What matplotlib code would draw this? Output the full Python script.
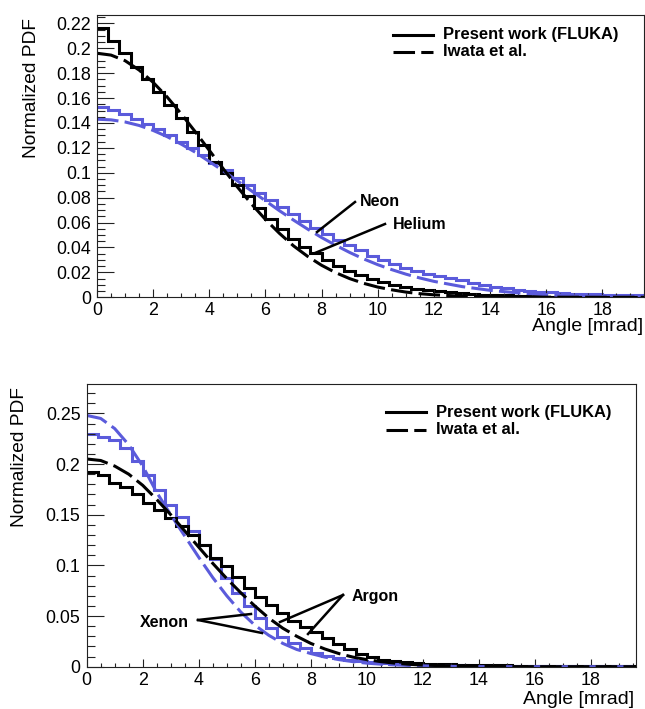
import numpy as np
import matplotlib
matplotlib.use("Agg")
import matplotlib.pyplot as plt
from matplotlib.ticker import MultipleLocator, FuncFormatter
from matplotlib.lines import Line2D

plt.rcParams['font.family'] = ['Liberation Sans', 'DejaVu Sans']

# ---------------- data ----------------
bin_width = 0.4          # mrad
n_bins = 49

# FLUKA histograms (normalized PDF per bin)
helium_fluka = [.216, .206, .1965, .185, .175, .165, .1545, .144, .133, .122,
                .109, .0995, .090, .081, .072, .063, .055, .047, .040, .0355,
                .030, .0255, .021, .018, .0145, .012, .010, .0085, .007, .006,
                .005, .004, .0033, .0027, .0022, .0018, .0015, .0012, .001, .0008,
                .0006, .0005, .0004, .0003, .0003, .0002, .0002, .0001, .0001]
neon_fluka = [.1526, .1504, .1470, .1435, .1395, .1350, .1300, .1250, .1195, .1140,
              .1080, .1020, .0960, .0900, .0840, .0780, .0722, .0665, .0610, .0558,
              .0508, .0462, .0420, .0380, .0335, .0298, .0266, .0238, .0212, .0190,
              .0170, .0153, .0138, .0115, .0098, .0084, .0072, .0062, .0053, .0046,
              .0040, .0035, .0030, .0027, .0024, .0021, .0019, .0017, .0015]
argon_fluka = [.1925, .1890, .1815, .1775, .1700, .1620, .1550, .1470, .1385, .1300,
               .1200, .1070, .0990, .0890, .0780, .0690, .0610, .0530, .0450, .0395,
               .0340, .0285, .0225, .0170, .0130, .0095, .0070, .0055, .0045, .0037,
               .0031, .0027, .0023, .0020, .0017, .0015, .0014, .0012, .0011, .0010,
               .0009, .0008, .0008, .0007, .0007, .0006, .0006, .0005, .0005]
xenon_fluka = [.2297, .2265, .2235, .2160, .2030, .1890, .1740, .1600, .1480, .1340,
               .1200, .1060, .0880, .0730, .0600, .0480, .0380, .0290, .0230, .0180,
               .0140, .0110, .0088, .0070, .0056, .0045, .0037, .0031, .0026, .0022,
               .0019, .0016, .0014, .0012, .0011, .0010, .0009, .0008, .0008, .0007,
               .0007, .0006, .0006, .0006, .0005, .0005, .0005, .0005, .0004]

# Iwata et al. parameterisation sampled in angle
iwata_angle = [0, 0.5, 1, 1.5, 2, 2.5, 3, 3.5, 4, 4.5, 5, 5.5, 6, 6.5, 7, 7.5, 8,
               8.5, 9, 9.5, 10, 10.5, 11, 11.5, 12, 13, 14, 15, 16, 17, 18, 19, 19.6]
helium_iwata = [.196, .1945, .190, .1825, .1726, .1608, .1473, .1329, .118, .1031,
                .0886, .075, .0625, .0513, .0413, .0329, .0257, .0198, .015, .0112,
                .0082, .006, .0042, .0029, .002, .0009, .0004, .0002, .0001, .00005,
                0, 0, 0]
neon_iwata = [.143, .1425, .1408, .138, .134, .129, .123, .1165, .109, .1015,
              .0935, .0855, .0775, .0695, .062, .0548, .048, .0418, .036, .0308,
              .0262, .0222, .0186, .0155, .0128, .0086, .0056, .0035, .0021, .0012,
              .0007, .0004, .0003]
argon_iwata = [.205, .2035, .198, .19, .179, .165, .15, .134, .118, .102,
               .087, .073, .06, .048, .038, .03, .023, .0175, .013, .0095,
               .007, .005, .0035, .0024, .0016, .0007, .0003, .0001, 0, 0,
               0, 0, 0]
xenon_iwata = [.248, .245, .235, .219, .198, .172, .150, .129, .108, .088,
               .070, .054, .041, .031, .023, .017, .013, .0095, .007, .005,
               .0035, .0025, .0018, .0012, .0008, .0003, .0001, 0, 0, 0,
               0, 0, 0]

legend_labels = ["Present work (FLUKA)", "Iwata et al."]
x_title = "Angle [mrad]"
y_title = "Normalized PDF"

# ---------------- style ----------------
W, H, DPI = 645, 709, 100
BLUE = '#5b5bdb'
LW = 2.2
DASH = (15.5 / LW, 4.5 / LW)
AX_COLOR = '#222222'

fig = plt.figure(figsize=(W / DPI, H / DPI), dpi=DPI)


def fx(px):
    return px / W


def fy(py):
    return 1 - py / H


def axes_px(left, top, right, bottom):
    return fig.add_axes([fx(left), fy(bottom), (right - left) / W, (bottom - top) / H])


def fmt(v, pos):
    s = f"{v:.3f}".rstrip('0').rstrip('.')
    return s


def style_axes(ax, xmax, ymax, ymajor, yminor):
    ax.set_xlim(0, xmax)
    ax.set_ylim(0, ymax)
    ax.xaxis.set_major_locator(MultipleLocator(2))
    ax.xaxis.set_minor_locator(MultipleLocator(0.5))
    ax.yaxis.set_major_locator(MultipleLocator(ymajor))
    ax.yaxis.set_minor_locator(MultipleLocator(yminor))
    ax.yaxis.set_major_formatter(FuncFormatter(fmt))
    ax.tick_params(which='both', direction='in', top=False, right=False,
                   color=AX_COLOR, width=0.8, labelsize=12.9)
    ax.tick_params(axis='x', which='major', length=6, pad=3.5)
    ax.tick_params(axis='x', which='minor', length=3.2)
    ax.tick_params(axis='y', which='major', length=12, pad=4.5)
    ax.tick_params(axis='y', which='minor', length=6)
    for sp in ax.spines.values():
        sp.set_color(AX_COLOR)
        sp.set_linewidth(0.8)


edges = np.arange(n_bins + 1) * bin_width


def draw_panel(ax, blue_hist, black_hist, blue_curve, black_curve):
    ax.stairs(blue_hist, edges, baseline=None, color=BLUE, lw=LW)
    ax.plot(iwata_angle, blue_curve, color=BLUE, lw=LW, dashes=DASH,
            dash_capstyle='butt')
    ax.stairs(black_hist, edges, baseline=None, color='black', lw=LW)
    ax.plot(iwata_angle, black_curve, color='black', lw=LW, dashes=DASH,
            dash_capstyle='butt')


def legend_px(x0, y0, dy):
    for i, lab in enumerate(legend_labels):
        y = y0 + i * dy
        ln = Line2D([fx(x0), fx(x0 + 40)], [fy(y), fy(y)], transform=fig.transFigure,
                    color='black', lw=LW)
        if i == 1:
            ln.set_dashes(DASH)
            ln.set_dash_capstyle('butt')
        fig.add_artist(ln)
        fig.text(fx(x0 + 50), fy(y), lab, fontsize=11.9, fontweight='bold',
                 ha='left', va='center')


def pointer(label, tx, ty, origin, targets):
    fig.text(fx(tx), fy(ty), label, fontsize=11.5, fontweight='bold', ha='left', va='center')
    for (x2, y2) in targets:
        fig.add_artist(Line2D([fx(origin[0]), fx(x2)], [fy(origin[1]), fy(y2)],
                              transform=fig.transFigure, color='black', lw=1.8))


# ---------------- top panel: helium / neon ----------------
ax1 = axes_px(97, 15, 644.5, 297.3)
style_axes(ax1, 19.5, 0.2267, 0.02, 0.005)
draw_panel(ax1, neon_fluka, helium_fluka, neon_iwata, helium_iwata)
fig.text(fx(32), fy(18), y_title, rotation=90, fontsize=13.8, ha='center', va='top')
fig.text(fx(643), fy(327), x_title, fontsize=14, ha='right', va='center')
legend_px(393, 35, 17)
pointer("Neon", 360, 201.5, (355, 202), [(317, 232)])
pointer("Helium", 393, 224.5, (385, 224), [(315, 253)])

# ---------------- bottom panel: argon / xenon ----------------
ax2 = axes_px(86.7, 384.3, 635.7, 666.7)
style_axes(ax2, 19.6, 0.2787, 0.05, 0.01)
draw_panel(ax2, xenon_fluka, argon_fluka, xenon_iwata, argon_iwata)
fig.text(fx(20), fy(387), y_title, rotation=90, fontsize=13.8, ha='center', va='top')
fig.text(fx(634), fy(700), x_title, fontsize=14, ha='right', va='center')
legend_px(386, 412, 18)
pointer("Xenon", 140, 622.5, (198, 620), [(251, 614), (262, 633)])
pointer("Argon", 352, 596.7, (343, 595), [(280, 622), (308, 634)])

fig.savefig("out.png", dpi=DPI)
